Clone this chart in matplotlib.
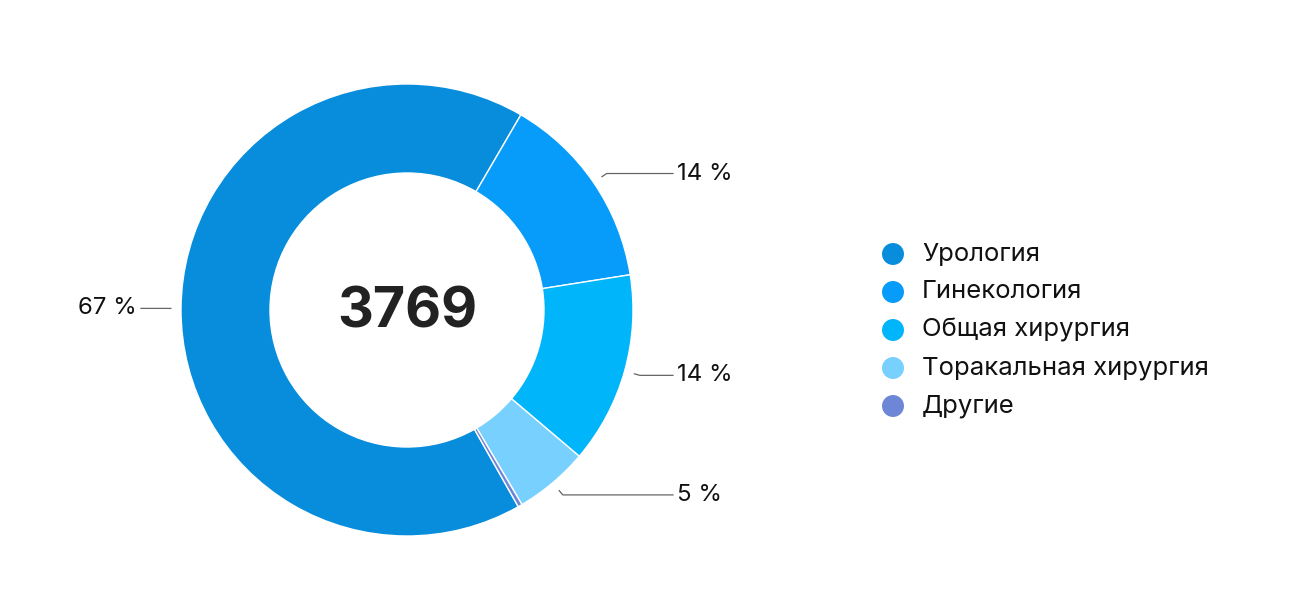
import numpy as np
import matplotlib.pyplot as plt

# данные
categories = ['Урология', 'Гинекология', 'Общая хирургия', 'Торакальная хирургия', 'Другие']
shares = [66.6, 14.1, 13.7, 5.3, 0.3]
total = 3769
colors = ['#078DDB', '#079BFA', '#00B5FA', '#78D0FF', '#6E86D6']

plt.rcParams['font.family'] = ['Inter', 'DejaVu Sans']

fig = plt.figure(figsize=(13.07, 6.10), dpi=100)
ax = fig.add_axes([0, 0, 1, 1])

cx, cy, R = 407, 300, 226
wedges, _ = ax.pie(shares, colors=colors, startangle=-60.5, counterclock=False,
                   center=(cx, cy), radius=R,
                   wedgeprops=dict(width=R - 137, edgecolor='white', linewidth=1))
ax.set_xlim(0, 1307)
ax.set_ylim(0, 610)
ax.axis('off')

ax.text(cx, cy - 3, str(total), ha='center', va='center', fontsize=40,
        fontweight='bold', color='#222222')

# подписи с процентами
for w, s in zip(wedges, shares):
    if s < 1:
        continue
    ang = np.deg2rad((w.theta1 + w.theta2) / 2)
    x0, y0 = cx + 1.045 * R * np.cos(ang), cy + 1.045 * R * np.sin(ang)
    x1, y1 = cx + 1.07 * R * np.cos(ang), cy + 1.07 * R * np.sin(ang)
    if np.cos(ang) >= 0:
        xe = 673
        ax.plot([x0, x1, xe], [y0, y1, y1], color='#666666', lw=0.9)
        ax.text(xe + 4, y1, f'{round(s)} %', ha='left', va='center', fontsize=17.3, color='#111111')
    else:
        xe = 141
        ax.plot([x0, x1, xe], [y0, y1, y1], color='#666666', lw=0.9)
        ax.text(xe - 4, y1, f'{round(s)} %', ha='right', va='center', fontsize=17.3, color='#111111')

# легенда
for i, (name, c) in enumerate(zip(categories, colors)):
    y = 610 - 254 - i * 38
    ax.scatter(893, y, s=250, color=c, edgecolors='none')
    ax.text(922, y, name, ha='left', va='center', fontsize=18.5, color='#111111')

fig.savefig('out.png', dpi=100, facecolor='white')
